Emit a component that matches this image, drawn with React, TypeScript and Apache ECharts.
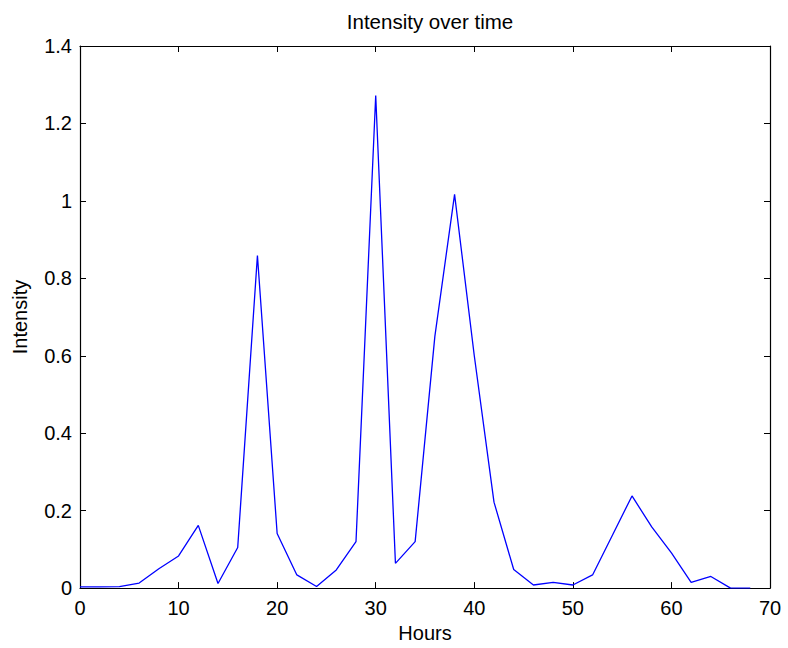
import React, { useEffect, useRef } from "react";
import * as echarts from "echarts";

const hours: number[] = [
  0, 2, 4, 6, 8, 10, 12, 14, 16, 18, 20, 22, 24, 26, 28, 30, 32, 34, 36, 38,
  40, 42, 44, 46, 48, 50, 52, 54, 56, 58, 60, 62, 64, 66, 68,
];
const intensity: number[] = [
  0.003, 0.003, 0.004, 0.013, 0.05, 0.083, 0.162, 0.012, 0.105, 0.859,
  0.141, 0.034, 0.004, 0.047, 0.12, 1.272, 0.064, 0.12, 0.65, 1.017,
  0.6, 0.222, 0.048, 0.008, 0.015, 0.008, 0.034, 0.136, 0.238, 0.158,
  0.091, 0.015, 0.03, 0.0, 0.0,
];
const titleText = "Intensity over time";
const xName = "Hours";
const yName = "Intensity";

const FONT = "'Liberation Sans', Arial, sans-serif";

export default function App() {
  const ref = useRef<HTMLDivElement>(null);
  useEffect(() => {
    document.body.style.margin = "0";
    const chart = echarts.init(ref.current!, null, { renderer: "svg" });
    const axisCommon = {
      type: "value" as const,
      axisLine: { show: true, onZero: false, lineStyle: { color: "#000", width: 1.2 } },
      axisTick: { show: true, inside: true, length: 6, lineStyle: { color: "#000" } },
      splitLine: { show: false },
    };
    chart.setOption({
      animation: false,
      backgroundColor: "#fff",
      title: {
        text: titleText,
        left: 425,
        top: 6,
        textAlign: "center",
        textStyle: { fontFamily: FONT, fontSize: 20.5, fontWeight: "normal", color: "#000" },
      },
      grid: { left: 80, right: 18, top: 46, bottom: 57 },
      xAxis: [
        {
          ...axisCommon,
          position: "bottom",
          min: 0,
          max: 70,
          interval: 10,
          name: xName,
          nameLocation: "middle",
          nameGap: 34,
          nameTextStyle: { fontFamily: FONT, fontSize: 20, color: "#000" },
          axisLabel: { fontFamily: FONT, fontSize: 20, color: "#000", margin: 10 },
        },
        {
          ...axisCommon,
          position: "top",
          min: 0,
          max: 70,
          interval: 10,
          axisLabel: { show: false },
        },
      ],
      yAxis: [
        {
          ...axisCommon,
          position: "left",
          min: 0,
          max: 1.4,
          interval: 0.2,
          name: yName,
          nameLocation: "middle",
          nameGap: 50,
          nameTextStyle: { fontFamily: FONT, fontSize: 20, color: "#000" },
          axisLabel: { fontFamily: FONT, fontSize: 20, color: "#000", margin: 8 },
        },
        {
          ...axisCommon,
          position: "right",
          min: 0,
          max: 1.4,
          interval: 0.2,
          axisLabel: { show: false },
        },
      ],
      series: [
        {
          type: "line",
          xAxisIndex: 0,
          yAxisIndex: 0,
          data: hours.map((h, i) => [h, intensity[i]]),
          showSymbol: false,
          symbol: "none",
          lineStyle: { color: "#0000ff", width: 1.3 },
          itemStyle: { color: "#0000ff" },
        },
      ],
    });
    return () => chart.dispose();
  }, []);
  return <div ref={ref} style={{ width: 788, height: 648 }} />;
}
